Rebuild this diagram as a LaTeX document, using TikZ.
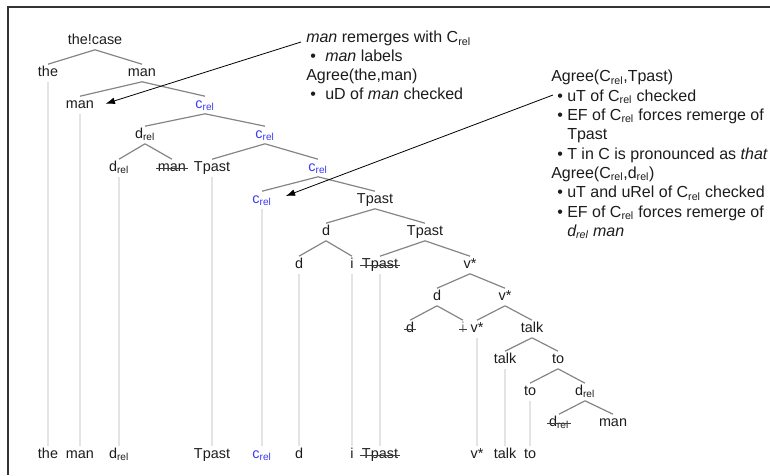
\documentclass[tikz,border=0pt]{standalone}
\usepackage{fontspec}
\setmainfont{Liberation Sans}
\usetikzlibrary{arrows.meta}

\definecolor{relblue}{HTML}{3B3BF2}
\definecolor{treegray}{HTML}{858585}
\definecolor{tracegray}{HTML}{E4E4E4}
\definecolor{inkdark}{HTML}{1C1C1C}
\definecolor{framegray}{HTML}{333333}

\newcommand{\relsub}{\textsubscript{rel}}
\newcommand{\bula}{\makebox[14.25pt][l]{\hspace{3pt}\textbullet}}
\newcommand{\bulb}{\makebox[12pt][l]{\hspace{4.5pt}\textbullet}}

\tikzset{
  word/.style={inner sep=1.5pt, text height=7.6pt, text depth=2.2pt,
    font=\fontsize{10.8}{12}\selectfont, text=inkdark},
  crel/.style={word, text=relblue},
  branch/.style={draw=treegray, line width=0.9pt},
  trace/.style={draw=tracegray, line width=1.5pt},
  strikeline/.style={draw=inkdark!85, line width=0.6pt},
  note/.style={anchor=north west, align=left, inner sep=0pt, text=inkdark},
  pointer/.style={-{Latex[length=7pt,width=5pt]}, line width=0.6pt},
}

\begin{document}
\begin{tikzpicture}[x=0.75pt,y=-0.75pt]
  \useasboundingbox (0,0) rectangle (770,475);
  % frame
  \draw[framegray, line width=1.5pt] (8,475) -- (8,7) -- (770,7);

  % tree
  \node[word] (tc) at (95,41) {the!case};
  \node[word] (the1) at (48,73) {the};
  \node[word] (man1) at (142,73) {man};
  \node[word] (man2) at (80,105) {man};
  \node[crel] (c1) at (205,105) {c\relsub};
  \node[word] (dr1) at (145,135) {d\relsub};
  \node[crel] (c2) at (265,135) {c\relsub};
  \node[word] (dr2) at (119,168) {d\relsub};
  \node[word] (mans) at (172,168) {man};
  \node[word] (tp1) at (212,168) {Tpast};
  \node[crel] (c3) at (318,168) {c\relsub};
  \node[crel] (c4) at (262,200) {c\relsub};
  \node[word] (tp2) at (375,200) {Tpast};
  \node[word] (d1) at (326,232) {d};
  \node[word] (tp3) at (425,232) {Tpast};
  \node[word] (d2) at (299,265) {d};
  \node[word] (i1) at (352,265) {i};
  \node[word] (tps) at (380,265) {Tpast};
  \node[word] (v1) at (470,265) {v*};
  \node[word] (d3) at (437,297) {d};
  \node[word] (v2) at (505,297) {v*};
  \node[word] (ds) at (410,329) {d};
  \node[word, text=gray] (is) at (463,329) {i};
  \node[word] (v3) at (477,329) {v*};
  \node[word] (tk1) at (532,329) {talk};
  \node[word] (tk2) at (505,360) {talk};
  \node[word] (to1) at (558,360) {to};
  \node[word] (to2) at (530,392) {to};
  \node[word] (dr3) at (585,392) {d\relsub};
  \node[word] (drs) at (559,423) {d\relsub};
  \node[word] (man3) at (613,423) {man};

  \draw[branch]
    (tc.south) -- (the1.north)   (tc.south) -- (man1.north)
    (man1.south) -- (man2.north) (man1.south) -- (c1.north)
    (c1.south) -- (dr1.north)    (c1.south) -- (c2.north)
    (dr1.south) -- (dr2.north)   (dr1.south) -- (mans.north)
    (c2.south) -- (tp1.north)    (c2.south) -- (c3.north)
    (c3.south) -- (c4.north)     (c3.south) -- (tp2.north)
    (tp2.south) -- (d1.north)    (tp2.south) -- (tp3.north)
    (d1.south) -- (d2.north)     (d1.south) -- (i1.north)
    (tp3.south) -- (tps.north)   (tp3.south) -- (v1.north)
    (v1.south) -- (d3.north)     (v1.south) -- (v2.north)
    (d3.south) -- (ds.north)     (d3.south) -- (is.north)
    (v2.south) -- (v3.north)     (v2.south) -- (tk1.north)
    (tk1.south) -- (tk2.north)   (tk1.south) -- (to1.north)
    (to1.south) -- (to2.north)   (to1.south) -- (dr3.north)
    (dr3.south) -- (drs.north)   (dr3.south) -- (man3.north);

  % linearization
  \node[word] (bthe) at (48,455) {the};
  \node[word] (bman) at (80,455) {man};
  \node[word] (bdr) at (119,455) {d\relsub};
  \node[word] (btp) at (212,455) {Tpast};
  \node[crel] (bc) at (262,455) {c\relsub};
  \node[word] (bd) at (299,455) {d};
  \node[word] (bi) at (352,455) {i};
  \node[word] (btps) at (380,455) {Tpast};
  \node[word] (bv) at (477,455) {v*};
  \node[word] (btk) at (505,455) {talk};
  \node[word] (bto) at (530,455) {to};

  \draw[trace]
    (the1.south) -- (bthe.north)
    (man2.south) -- (bman.north)
    (dr2.south) -- (bdr.north)
    (tp1.south) -- (btp.north)
    (c4.south) -- (bc.north)
    (d2.south) -- (bd.north)
    (i1.south) -- (bi.north)
    (tps.south) -- (btps.north)
    (v3.south) -- (bv.north)
    (tk2.south) -- (btk.north)
    (to2.south) -- (bto.north);

  \foreach \n in {mans,tps,ds,is,drs,btps}
    \draw[strikeline] (\n.west) -- (\n.east);

  % notes
  \node[note, font=\fontsize{12}{14.25}\selectfont] (note1) at (306,31)
    {\textit{man} remerges with C\relsub\\
     \bula\textit{man} labels\\
     Agree(the,man)\\
     \bula uD of \textit{man} checked};
  \node[note, font=\fontsize{12}{14.5}\selectfont] (note2) at (551,70)
    {Agree(C\relsub,Tpast)\\
     \bulb uT of C\relsub{} checked\\
     \bulb EF of C\relsub{} forces remerge of\\
     \hspace*{12pt}Tpast\\
     \bulb T in C is pronounced as \textit{that}\\
     Agree(C\relsub,d\relsub)\\
     \bulb uT and uRel of C\relsub{} checked\\
     \bulb EF of C\relsub{} forces remerge of\\
     \hspace*{12pt}\textit{d\relsub{} man}};

  \coordinate (from1) at (301,42);
  \coordinate (from2) at (553,95);
  \draw[pointer] (from1) -- ([xshift=7pt,yshift=1pt]man2.east);
  \draw[pointer] (from2) -- ([xshift=9pt,yshift=3pt]c4.east);
\end{tikzpicture}
\end{document}
